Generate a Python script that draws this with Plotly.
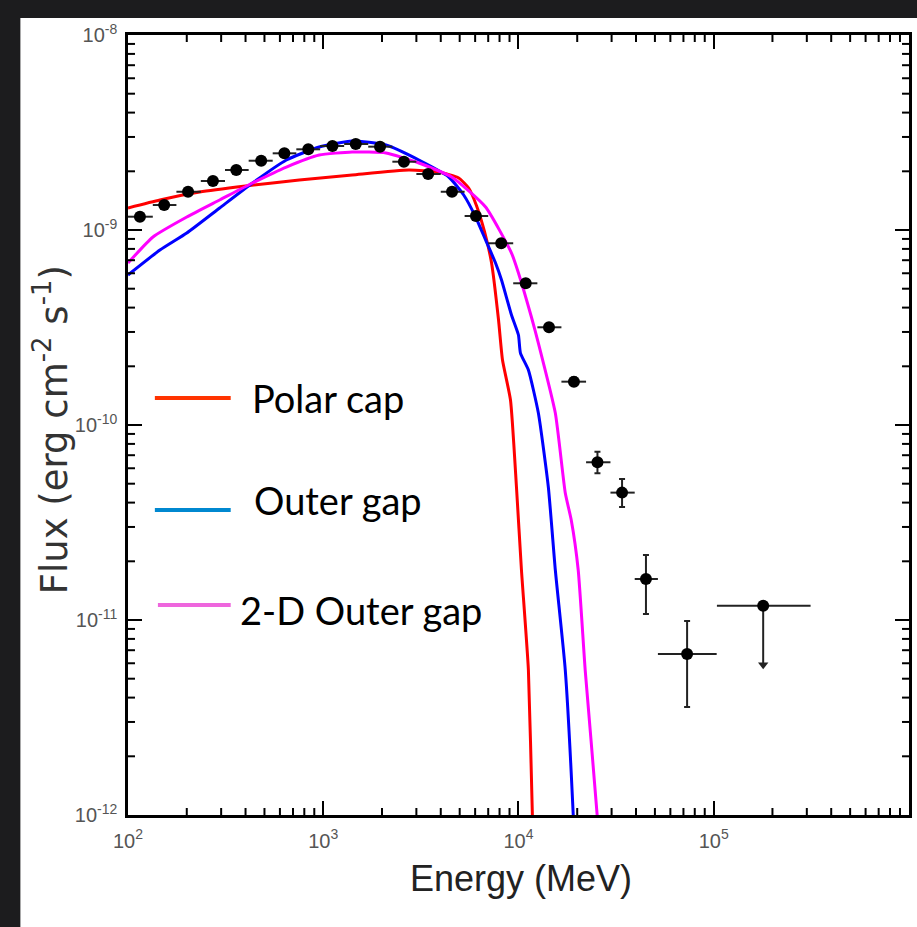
import plotly.graph_objects as go

# ---------------- data ----------------
# Observed data points (Energy in MeV, Flux in erg cm^-2 s^-1)
obs_E = [115.1, 153.2, 203.1, 272.4, 358.6, 481.0, 632.4, 838.4, 1115, 1468,
         1954, 2590, 3446, 4568, 6055, 8160, 10895, 14340, 19240, 25390,
         33940, 44990, 73090]
obs_F = [1.170e-9, 1.343e-9, 1.571e-9, 1.784e-9, 2.031e-9, 2.266e-9, 2.473e-9,
         2.593e-9, 2.697e-9, 2.761e-9, 2.675e-9, 2.240e-9, 1.937e-9, 1.571e-9,
         1.180e-9, 8.55e-10, 5.33e-10, 3.17e-10, 1.668e-10, 6.44e-11, 4.50e-11,
         1.623e-11, 6.69e-12]
obs_F_hi = [1.20e-9, 1.38e-9, 1.61e-9, 1.83e-9, 2.08e-9, 2.32e-9, 2.53e-9,
            2.65e-9, 2.76e-9, 2.83e-9, 2.74e-9, 2.30e-9, 1.99e-9, 1.62e-9,
            1.22e-9, 8.85e-10, 5.55e-10, 3.30e-10, 1.75e-10, 7.30e-11, 5.28e-11,
            2.154e-11, 9.88e-12]
obs_F_lo = [1.14e-9, 1.31e-9, 1.53e-9, 1.74e-9, 1.98e-9, 2.21e-9, 2.42e-9,
            2.54e-9, 2.64e-9, 2.69e-9, 2.61e-9, 2.18e-9, 1.89e-9, 1.52e-9,
            1.14e-9, 8.25e-10, 5.10e-10, 3.04e-10, 1.59e-10, 5.65e-11, 3.80e-11,
            1.073e-11, 3.58e-12]
obs_E_lo = [100, 134, 177, 236, 314, 415, 551, 728, 964, 1280,
            1700, 2260, 3000, 4000, 5300, 7000, 9400, 12500, 16600, 22200,
            29600, 39400, 51800]
obs_E_hi = [134, 177, 236, 314, 415, 551, 728, 964, 1280, 1700,
            2260, 3000, 4000, 5300, 7000, 9400, 12500, 16600, 22200, 29600,
            39400, 51800, 103600]

# Upper limit point
ul_E = 1.793e5
ul_F = 1.183e-11
ul_E_lo = 1.039e5
ul_E_hi = 3.136e5
ul_tip_F = 5.9e-12

# Model curves
pc_E = [100, 145.7, 232.9, 399.9, 754.4, 1406, 2747, 3907, 4942, 5559, 6105,
        6707, 7283, 7907, 8285, 9104, 9768, 10360, 11245, 11786, 11925]
pc_F = [1.297e-9, 1.425e-9, 1.566e-9, 1.681e-9, 1.805e-9, 1.914e-9, 2.031e-9,
        1.984e-9, 1.848e-9, 1.642e-9, 1.328e-9, 9.77e-10, 6.77e-10, 3.455e-10,
        2.154e-10, 1.343e-10, 4.81e-11, 1.805e-11, 5.54e-12, 1.0e-12, 7.44e-13]

og_E = [100, 145.7, 200.0, 294.7, 434.2, 647.5, 953.9, 1406, 2096, 3090, 4394,
        5242, 6034, 6786, 7632, 8190, 9211, 10000, 10237, 11245, 12647, 14225,
        15447, 17372, 19084, 19310]
og_F = [5.88e-10, 7.89e-10, 9.65e-10, 1.297e-9, 1.742e-9, 2.286e-9, 2.665e-9,
        2.860e-9, 2.729e-9, 2.286e-9, 1.870e-9, 1.512e-9, 1.166e-9, 8.89e-10,
        6.77e-10, 5.54e-10, 3.665e-10, 2.893e-10, 2.339e-10, 1.914e-10,
        1.152e-10, 4.81e-11, 1.805e-11, 5.54e-12, 1.0e-12, 7.44e-13]

og2_E = [100, 134.2, 200.0, 294.7, 434.2, 647.5, 953.9, 1406, 2096, 3090, 4551,
         6786, 9211, 10000, 11650, 12647, 15447, 17372, 18637, 20236, 21972,
         25302, 25600]
og2_F = [6.77e-10, 9.21e-10, 1.166e-9, 1.425e-9, 1.742e-9, 2.104e-9, 2.424e-9,
         2.512e-9, 2.482e-9, 2.206e-9, 1.870e-9, 1.312e-9, 7.62e-10, 6.02e-10,
         3.579e-10, 2.633e-10, 1.152e-10, 4.48e-11, 3.257e-11, 1.805e-11,
         5.54e-12, 1.0e-12, 7.44e-13]

legend_names = ["Polar cap", "Outer gap", "2-D Outer gap"]

x_decades = [2, 3, 4, 5, 6]
x_ticktext = ["10<sup>2</sup>", "10<sup>3</sup>", "10<sup>4</sup>", "10<sup>5</sup>", "10<sup>6</sup>"]
y_decades = [-12, -11, -10, -9, -8]
y_ticktext = ["10<sup>-12</sup>", "10<sup>-11</sup>", "10<sup>-10</sup>", "10<sup>-9</sup>", "10<sup>-8</sup>"]

x_title = "Energy (MeV)"
y_title = "Flux (erg cm<sup>-2</sup> s<sup>-1</sup>)"

x_major = [10.0 ** d for d in x_decades]
y_major = [10.0 ** d for d in y_decades]
x_minor = [m * 10.0 ** d for d in x_decades[:-1] for m in range(2, 10)]
y_minor = [m * 10.0 ** d for d in y_decades[:-1] for m in range(2, 10)]

# ---------------- figure ----------------
fig = go.Figure()

curve_colors = ["#ff0000", "#0000ff", "#ff00ff"]
for E, F, c, n in [(pc_E, pc_F, curve_colors[0], legend_names[0]),
                   (og_E, og_F, curve_colors[1], legend_names[1]),
                   (og2_E, og2_F, curve_colors[2], legend_names[2])]:
    fig.add_trace(go.Scatter(x=E, y=F, mode="lines", name=n,
                             line=dict(color=c, width=3, shape="spline", smoothing=0.5),
                             showlegend=False))

fig.add_trace(go.Scatter(
    x=obs_E, y=obs_F, mode="markers", showlegend=False,
    marker=dict(color="black", size=12, symbol="circle"),
    error_x=dict(type="data", symmetric=False,
                 array=[h - e for h, e in zip(obs_E_hi, obs_E)],
                 arrayminus=[e - l for e, l in zip(obs_E, obs_E_lo)],
                 color="#222", thickness=2, width=0),
    error_y=dict(type="data", symmetric=False,
                 array=[h - f for h, f in zip(obs_F_hi, obs_F)],
                 arrayminus=[f - l for f, l in zip(obs_F, obs_F_lo)],
                 color="#222", thickness=2, width=3),
))

# upper limit
fig.add_trace(go.Scatter(
    x=[ul_E_lo, ul_E_hi], y=[ul_F, ul_F], mode="lines", showlegend=False,
    line=dict(color="#222", width=2)))
fig.add_trace(go.Scatter(
    x=[ul_E, ul_E], y=[ul_F, ul_tip_F], mode="lines", showlegend=False,
    line=dict(color="#222", width=2)))
fig.add_trace(go.Scatter(
    x=[ul_E], y=[ul_tip_F], mode="markers", showlegend=False,
    marker=dict(color="#222", size=9, symbol="triangle-down")))
fig.add_trace(go.Scatter(
    x=[ul_E], y=[ul_F], mode="markers", showlegend=False,
    marker=dict(color="black", size=12, symbol="circle")))

tickfont = dict(family="Liberation Sans, Arial", size=20, color="#555")
axis_common = dict(
    type="log", showgrid=False, zeroline=False,
    showline=True, linecolor="black", linewidth=2.5, mirror="allticks",
    ticks="inside", ticklen=14, tickwidth=2, tickcolor="black",
    tickfont=tickfont, tickmode="array",
)

fig.update_layout(
    xaxis=dict(**axis_common, range=[2, 6.0005], tickvals=x_major, ticktext=x_ticktext,
               ticklabelstandoff=6),
    yaxis=dict(**axis_common, range=[-12, -8], tickvals=y_major, ticktext=y_ticktext,
               ticklabelstandoff=4),
)

# minor ticks on all four sides
min_len_x = 7 / 780
min_len_y = 7 / 784
for v in x_minor:
    for y0, y1 in [(0, min_len_x), (1 - min_len_x, 1)]:
        fig.add_shape(type="line", xref="x", yref="paper", x0=v, x1=v,
                      y0=y0, y1=y1, line=dict(color="black", width=2))
for v in y_minor:
    for x0, x1 in [(0, min_len_y), (1 - min_len_y, 1)]:
        fig.add_shape(type="line", xref="paper", yref="y", y0=v, y1=v,
                      x0=x0, x1=x1, line=dict(color="black", width=2))

# dark background strips around the white panel
fig.add_shape(type="rect", xref="paper", yref="paper",
              x0=-0.17, x1=-0.1378, y0=-0.16, y1=1.06,
              fillcolor="#1c1c1e", line=dict(width=0), layer="below")
fig.add_shape(type="rect", xref="paper", yref="paper",
              x0=-0.17, x1=1.02, y0=1.0218, y1=1.06,
              fillcolor="#1c1c1e", line=dict(width=0), layer="below")

# legend drawn as lines + text
leg_y = [0.5346, 0.391, 0.2692]
leg_x0 = [0.0344, 0.0344, 0.0383]
leg_colors = ["#ff3300", "#0088d0", "#ee66dd"]
txt_x = [0.1556, 0.1582, 0.1403]
txt_y = [0.5346, 0.4038, 0.2628]
for i in range(3):
    fig.add_shape(type="line", xref="paper", yref="paper",
                  x0=leg_x0[i], x1=0.1315, y0=leg_y[i], y1=leg_y[i],
                  line=dict(color=leg_colors[i], width=4))
    fig.add_annotation(x=txt_x[i], y=txt_y[i], xref="paper", yref="paper",
                       text=legend_names[i], showarrow=False,
                       xanchor="left", yanchor="middle",
                       font=dict(family="Lato", size=38, color="black"))

fig.add_annotation(x=0.5026, y=-0.0808, xref="paper", yref="paper",
                   text=x_title, showarrow=False, xanchor="center", yanchor="middle",
                   font=dict(family="Liberation Sans, Arial", size=36, color="#222"))
fig.add_annotation(x=-0.0969, y=0.4936, xref="paper", yref="paper",
                   text=y_title, showarrow=False, textangle=-90,
                   xanchor="center", yanchor="middle",
                   font=dict(family="DejaVu Sans", size=37, color="#333"))

fig.update_layout(
    width=917, height=927,
    margin=dict(l=128, r=5, t=35, b=112),
    paper_bgcolor="white", plot_bgcolor="white",
    showlegend=False,
)

fig.write_html("out.html",
               post_script="document.body.style.margin='0';document.body.style.background='white';document.body.style.overflow='hidden';document.documentElement.style.overflow='hidden';")
